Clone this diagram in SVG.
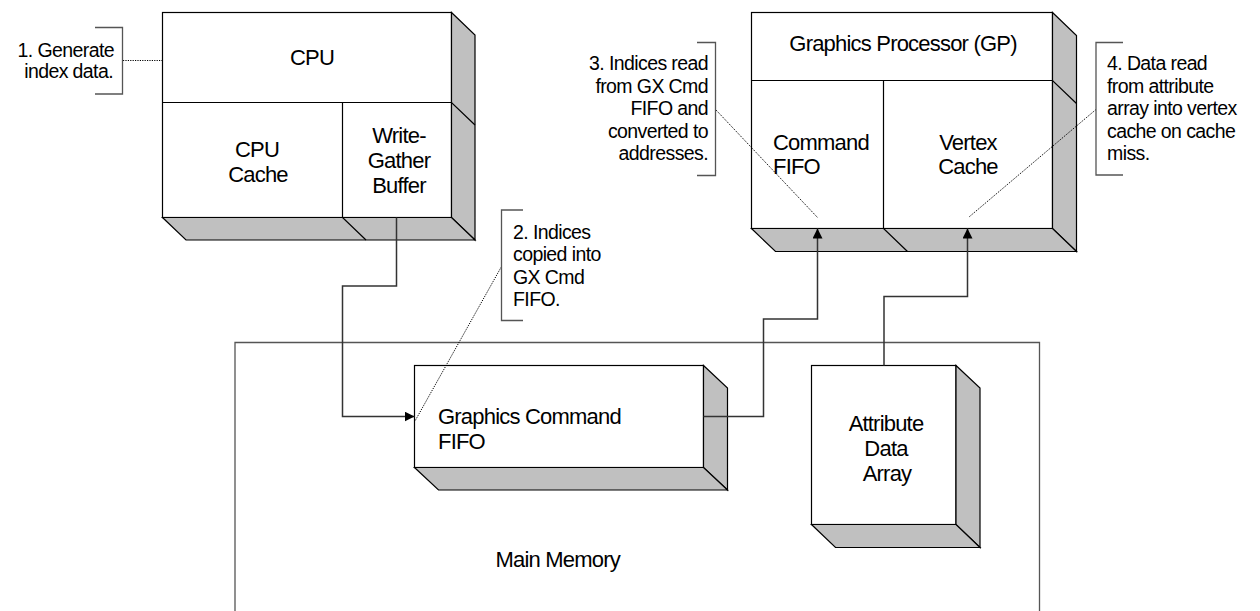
<svg xmlns="http://www.w3.org/2000/svg" width="1260" height="611" viewBox="0 0 1260 611">
<style>
.front{fill:#fff;stroke:#000;stroke-width:1.2}
.shade{fill:#c0c0c0;stroke:#000;stroke-width:1.2;stroke-linejoin:miter}
.div{fill:none;stroke:#000;stroke-width:1.2}
.conn{fill:none;stroke:#333;stroke-width:1.5}
.dot{fill:none;stroke:#000;stroke-width:1;stroke-dasharray:1.2 1.2}
.br{fill:none;stroke:#555;stroke-width:1.3}
.mm{fill:none;stroke:#555;stroke-width:1.3}
.lbl{font-family:"Liberation Sans",Arial,sans-serif;font-size:22px;fill:#000;letter-spacing:-0.8px}
.ann{font-family:"Liberation Sans",Arial,sans-serif;font-size:19.5px;fill:#000;letter-spacing:-0.6px}
.c{text-anchor:middle}
.e{text-anchor:end}
</style>
<defs>
<marker id="arr" viewBox="0 0 10 10" refX="10" refY="5" markerWidth="10" markerHeight="10" markerUnits="userSpaceOnUse" orient="auto">
<path d="M0,0 L10,5 L0,10 Z" fill="#000"/>
</marker>
</defs>

<g id="main-memory">
<path class="mm" d="M235,620 V342.5 H1039.5 V620"/>
<text class="lbl" x="495.5" y="567">Main Memory</text>
</g>

<g id="cpu">
<rect class="front" x="162.5" y="12.5" width="289" height="205"/>
<path class="shade" d="M451.5,12.5 L475,35 L475,240 L451.5,217.5 Z"/>
<path class="shade" d="M162.5,217.5 L451.5,217.5 L475,240 L186,240 Z"/>
<path class="div" d="M162.5,102.5 H451.5 L475,125 M342.5,102.5 V217.5 L366,240"/>
<text class="lbl c" x="312" y="65">CPU</text>
<text class="lbl c" x="257" y="157">CPU</text>
<text class="lbl c" x="258" y="182">Cache</text>
<text class="lbl c" x="399" y="143">Write-</text>
<text class="lbl c" x="399" y="168">Gather</text>
<text class="lbl c" x="399" y="193">Buffer</text>
</g>

<g id="gp">
<rect class="front" x="751.5" y="12.5" width="301" height="216"/>
<path class="shade" d="M1052.5,12.5 L1076.5,35.5 L1076.5,251.5 L1052.5,228.5 Z"/>
<path class="shade" d="M751.5,228.5 L1052.5,228.5 L1076.5,251.5 L775.5,251.5 Z"/>
<path class="div" d="M751.5,80.5 H1052.5 L1076.5,103.5 M883.5,80.5 V228.5 L907.5,251.5"/>
<text class="lbl c" x="903" y="51">Graphics Processor (GP)</text>
<text class="lbl" x="773" y="150">Command</text>
<text class="lbl" x="773" y="174">FIFO</text>
<text class="lbl c" x="968" y="150">Vertex</text>
<text class="lbl c" x="968" y="174">Cache</text>
</g>

<g id="gx-fifo">
<rect class="front" x="414.5" y="365.5" width="289" height="102"/>
<path class="shade" d="M703.5,365.5 L727.5,388 L727.5,490 L703.5,467.5 Z"/>
<path class="shade" d="M414.5,467.5 L703.5,467.5 L727.5,490 L438.5,490 Z"/>
<text class="lbl" x="438" y="424">Graphics Command</text>
<text class="lbl" x="438" y="449">FIFO</text>
</g>

<g id="attr-array">
<rect class="front" x="811.5" y="365.5" width="144.5" height="159"/>
<path class="shade" d="M956,365.5 L980,388 L980,547.5 L956,524.5 Z"/>
<path class="shade" d="M811.5,524.5 L956,524.5 L980,547.5 L835.5,547.5 Z"/>
<text class="lbl c" x="886" y="431">Attribute</text>
<text class="lbl c" x="886" y="456">Data</text>
<text class="lbl c" x="887" y="481">Array</text>
</g>

<g id="connectors">
<path class="conn" d="M396.5,217.5 V286 H342.5 V416.5 H414.5" marker-end="url(#arr)"/>
<path class="conn" d="M703.5,416.5 H763.5 V319 H817.5 V228.5" marker-end="url(#arr)"/>
<path class="conn" d="M884,365.5 V296.5 H967.5 V228.5" marker-end="url(#arr)"/>
<path class="dot" d="M123,60.5 H162.5"/>
<path class="dot" d="M501.5,266.5 L415,421"/>
<path class="dot" d="M716,110 L818,218"/>
<path class="dot" d="M1096,109.5 L969,217"/>
</g>

<g id="note-1">
<path class="br" d="M95,27.5 H122.5 V94 H95"/>
<text class="ann e" x="114" y="57">1. Generate</text>
<text class="ann e" x="113" y="77.5">index data.</text>
</g>

<g id="note-2">
<path class="br" d="M523,210 H501.5 V320.5 H523"/>
<text class="ann" x="513" y="238.5">2. Indices</text>
<text class="ann" x="513" y="261">copied into</text>
<text class="ann" x="513" y="283.5">GX Cmd</text>
<text class="ann" x="513" y="306">FIFO.</text>
</g>

<g id="note-3">
<path class="br" d="M697,42.5 H715.5 V175.5 H697"/>
<text class="ann e" x="708" y="70">3. Indices read</text>
<text class="ann e" x="708" y="92.5">from GX Cmd</text>
<text class="ann e" x="708" y="115">FIFO and</text>
<text class="ann e" x="708" y="137.5">converted to</text>
<text class="ann e" x="708" y="160">addresses.</text>
</g>

<g id="note-4">
<path class="br" d="M1123,42.5 H1096 V175 H1123"/>
<text class="ann" x="1107" y="70">4. Data read</text>
<text class="ann" x="1107" y="92.5">from attribute</text>
<text class="ann" x="1107" y="115">array into vertex</text>
<text class="ann" x="1107" y="137.5">cache on cache</text>
<text class="ann" x="1107" y="160">miss.</text>
</g>
</svg>
